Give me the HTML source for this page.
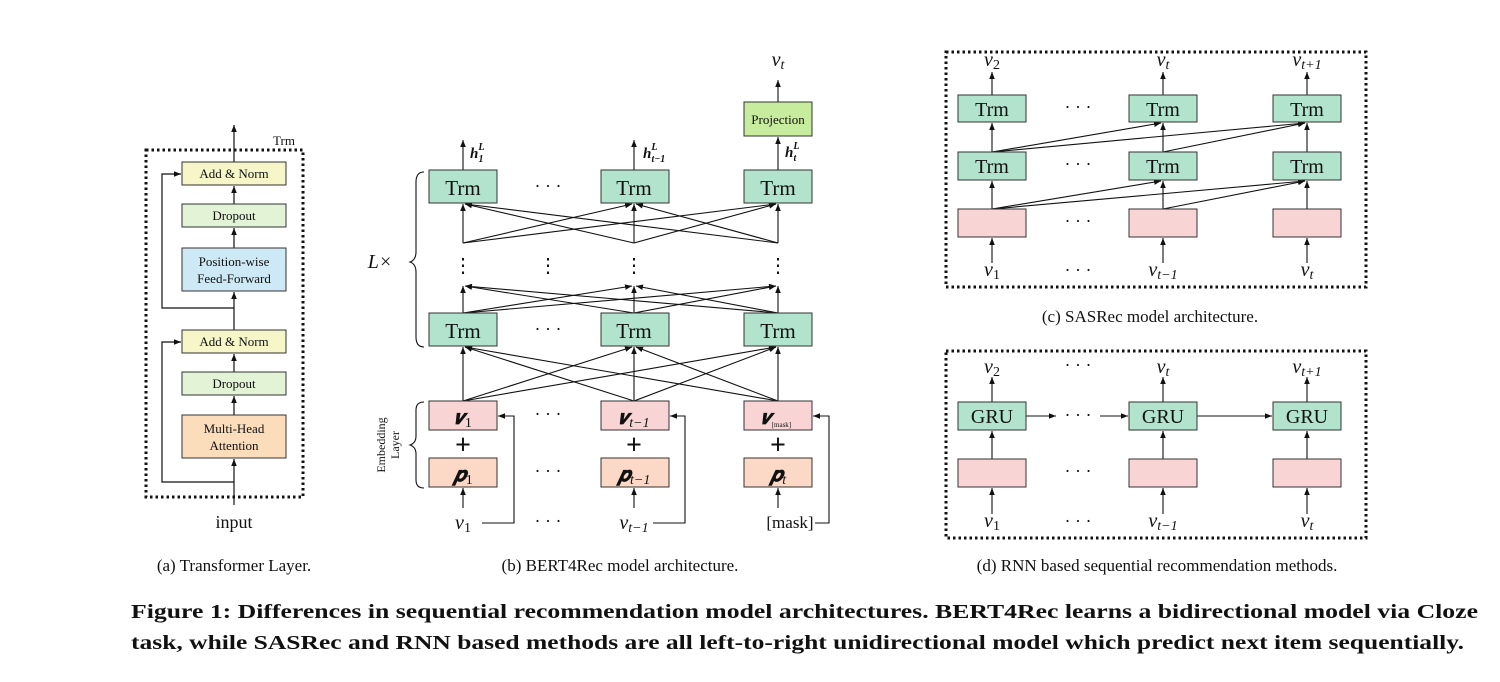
<!DOCTYPE html>
<html><head><meta charset="utf-8"><style>
html,body{margin:0;padding:0;background:#fff;}
svg{display:block;}
text{font-family:"Liberation Serif",serif;fill:#111;}
.it{font-style:italic;}
</style></head><body>
<svg width="1500" height="682" viewBox="0 0 1500 682" xmlns="http://www.w3.org/2000/svg">
<defs>
<marker id="a" markerWidth="8" markerHeight="8" refX="7" refY="4" orient="auto" markerUnits="userSpaceOnUse">
<path d="M0,1.2 L7,4 L0,6.8 Z" fill="#111"/></marker>
</defs>
<g stroke="#111" stroke-width="1.2" fill="none">
<!-- (a) -->
<rect x="146" y="150" width="157" height="347" stroke-dasharray="2.5,3" stroke-width="3"/>
<line x1="234" y1="162" x2="234" y2="125" marker-end="url(#a)"/>
<line x1="234" y1="204" x2="234" y2="186" marker-end="url(#a)"/>
<line x1="234" y1="248" x2="234" y2="228" marker-end="url(#a)"/>
<line x1="234" y1="330" x2="234" y2="292" marker-end="url(#a)"/>
<line x1="234" y1="372" x2="234" y2="354" marker-end="url(#a)"/>
<line x1="234" y1="415" x2="234" y2="396" marker-end="url(#a)"/>
<line x1="234" y1="505" x2="234" y2="459" marker-end="url(#a)"/>
<polyline points="234,308 162,308 162,174 181,174" marker-end="url(#a)"/>
<polyline points="234,482 162,482 162,342 181,342" marker-end="url(#a)"/>
</g>
<g stroke="#333" stroke-width="1">
<rect x="182" y="162" width="104" height="23" fill="#f6f6c9"/>
<rect x="182" y="204" width="104" height="23" fill="#e3f3d6"/>
<rect x="182" y="248" width="104" height="43" fill="#cde9f5"/>
<rect x="182" y="330" width="104" height="23" fill="#f6f6c9"/>
<rect x="182" y="372" width="104" height="23" fill="#e3f3d6"/>
<rect x="182" y="415" width="104" height="43" fill="#fbdcbb"/>
</g>
<g font-size="13" text-anchor="middle">
<text x="234" y="178">Add &amp; Norm</text>
<text x="234" y="220">Dropout</text>
<text x="234" y="266">Position-wise</text>
<text x="234" y="283">Feed-Forward</text>
<text x="234" y="346">Add &amp; Norm</text>
<text x="234" y="388">Dropout</text>
<text x="234" y="433">Multi-Head</text>
<text x="234" y="450">Attention</text>
<text x="284" y="145">Trm</text>
</g>
<text x="234" y="528" font-size="18" text-anchor="middle">input</text>

<!-- (b) -->
<g stroke="#111" stroke-width="1.1" fill="none">
<line x1="463" y1="170" x2="463" y2="140" marker-end="url(#a)"/>
<line x1="634" y1="170" x2="634" y2="140" marker-end="url(#a)"/>
<line x1="778" y1="170" x2="778" y2="137" marker-end="url(#a)"/>
<line x1="778" y1="102" x2="778" y2="80" marker-end="url(#a)"/>
<line x1="463" y1="243" x2="463" y2="204" marker-end="url(#a)"/>
<line x1="634" y1="243" x2="634" y2="204" marker-end="url(#a)"/>
<line x1="778" y1="243" x2="778" y2="204" marker-end="url(#a)"/>
<line x1="463" y1="243" x2="632" y2="204" marker-end="url(#a)"/>
<line x1="463" y1="243" x2="776" y2="204" marker-end="url(#a)"/>
<line x1="634" y1="243" x2="465" y2="204" marker-end="url(#a)"/>
<line x1="634" y1="243" x2="776" y2="204" marker-end="url(#a)"/>
<line x1="778" y1="243" x2="465" y2="204" marker-end="url(#a)"/>
<line x1="778" y1="243" x2="636" y2="204" marker-end="url(#a)"/>
<line x1="463" y1="313" x2="463" y2="286" marker-end="url(#a)"/>
<line x1="634" y1="313" x2="634" y2="286" marker-end="url(#a)"/>
<line x1="778" y1="313" x2="778" y2="286" marker-end="url(#a)"/>
<line x1="463" y1="313" x2="632" y2="286" marker-end="url(#a)"/>
<line x1="463" y1="313" x2="776" y2="286" marker-end="url(#a)"/>
<line x1="634" y1="313" x2="465" y2="286" marker-end="url(#a)"/>
<line x1="634" y1="313" x2="776" y2="286" marker-end="url(#a)"/>
<line x1="778" y1="313" x2="465" y2="286" marker-end="url(#a)"/>
<line x1="778" y1="313" x2="636" y2="286" marker-end="url(#a)"/>
<line x1="463" y1="401" x2="463" y2="347" marker-end="url(#a)"/>
<line x1="634" y1="401" x2="634" y2="347" marker-end="url(#a)"/>
<line x1="778" y1="401" x2="778" y2="347" marker-end="url(#a)"/>
<line x1="463" y1="401" x2="632" y2="347" marker-end="url(#a)"/>
<line x1="463" y1="401" x2="776" y2="347" marker-end="url(#a)"/>
<line x1="634" y1="401" x2="465" y2="347" marker-end="url(#a)"/>
<line x1="634" y1="401" x2="776" y2="347" marker-end="url(#a)"/>
<line x1="778" y1="401" x2="465" y2="347" marker-end="url(#a)"/>
<line x1="778" y1="401" x2="636" y2="347" marker-end="url(#a)"/>
<line x1="463" y1="508" x2="463" y2="488" marker-end="url(#a)"/>
<line x1="634" y1="508" x2="634" y2="488" marker-end="url(#a)"/>
<line x1="778" y1="508" x2="778" y2="488" marker-end="url(#a)"/>
<polyline points="482,523 514,523 514,416 498,416" marker-end="url(#a)"/>
<polyline points="653,523 685,523 685,416 670,416" marker-end="url(#a)"/>
<polyline points="815,523 829,523 829,416 813,416" marker-end="url(#a)"/>
<path d="M424,172 Q416,172 416,182 L416,252 Q416,260 410,262 Q416,264 416,272 L416,337 Q416,347 424,347"/>
<path d="M424,402 Q416,402 416,410 L416,436 Q416,443 410,445 Q416,447 416,454 L416,480 Q416,488 424,488"/>
</g>
<g stroke="#333" stroke-width="1">
<rect x="744" y="102" width="68" height="34" fill="#c8ec9e"/>
<rect x="429" y="170" width="68" height="33" fill="#b2e3cc"/>
<rect x="601" y="170" width="68" height="33" fill="#b2e3cc"/>
<rect x="744" y="170" width="68" height="33" fill="#b2e3cc"/>
<rect x="429" y="313" width="68" height="33" fill="#b2e3cc"/>
<rect x="601" y="313" width="68" height="33" fill="#b2e3cc"/>
<rect x="744" y="313" width="68" height="33" fill="#b2e3cc"/>
<rect x="429" y="401" width="68" height="29" fill="#f8d4d4"/>
<rect x="601" y="401" width="68" height="29" fill="#f8d4d4"/>
<rect x="744" y="401" width="68" height="29" fill="#f8d4d4"/>
<rect x="429" y="458" width="68" height="29" fill="#fcd9c6"/>
<rect x="601" y="458" width="68" height="29" fill="#fcd9c6"/>
<rect x="744" y="458" width="68" height="29" fill="#fcd9c6"/>
</g>
<g text-anchor="middle">
<text x="778" y="124" font-size="13">Projection</text>
<g font-size="21">
<text x="463" y="195">Trm</text><text x="634" y="195">Trm</text><text x="778" y="195">Trm</text>
<text x="463" y="338">Trm</text><text x="634" y="338">Trm</text><text x="778" y="338">Trm</text>
</g>
<g font-size="18">
<text x="548" y="192">· · ·</text><text x="548" y="335">· · ·</text>
<text x="548" y="420">· · ·</text><text x="548" y="477">· · ·</text><text x="548" y="527">· · ·</text>
</g>
<g font-size="28" font-weight="bold">
<text x="463" y="454">+</text><text x="634" y="454">+</text><text x="778" y="454">+</text>
</g>
<g font-size="20" class="it" font-weight="bold">
<text x="463" y="424">𝒗<tspan font-size="14" font-style="normal" font-weight="normal" dy="3">1</tspan></text>
<text x="634" y="424">𝒗<tspan font-size="14" font-weight="normal" dy="3">t−1</tspan></text>
<text x="776" y="424">𝒗<tspan font-size="7" font-style="normal" font-weight="normal" dy="3">[mask]</tspan></text>
<text x="463" y="481">𝒑<tspan font-size="14" font-style="normal" font-weight="normal" dy="3">1</tspan></text>
<text x="634" y="481">𝒑<tspan font-size="14" font-weight="normal" dy="3">t−1</tspan></text>
<text x="778" y="481">𝒑<tspan font-size="14" font-weight="normal" dy="3">t</tspan></text>
</g>
<g font-size="20" class="it">
<text x="463" y="529">v<tspan font-size="14" font-style="normal" dy="3">1</tspan></text>
<text x="634" y="529">v<tspan font-size="14" dy="3">t−1</tspan></text>
<text x="778" y="66">v<tspan font-size="14" dy="3">t</tspan></text>
</g>
<text x="790" y="528" font-size="17">[mask]</text>
<text x="380" y="268" font-size="20" class="it">L×</text>
<g font-size="20">
<text x="463" y="272">⋮</text><text x="548" y="272">⋮</text><text x="634" y="272">⋮</text><text x="778" y="272">⋮</text>
</g>
</g>
<g font-size="15" class="it" font-weight="bold">
<text x="470" y="158">h<tspan font-size="10" dy="-8">L</tspan><tspan font-size="10" dx="-6" dy="12">1</tspan></text>
<text x="643" y="158">h<tspan font-size="10" dy="-8">L</tspan><tspan font-size="10" dx="-6" dy="12">t−1</tspan></text>
<text x="785" y="157">h<tspan font-size="10" dy="-8">L</tspan><tspan font-size="10" dx="-6" dy="12">t</tspan></text>
</g>
<text transform="translate(385,445) rotate(-90)" font-size="12" text-anchor="middle">Embedding</text>
<text transform="translate(399,445) rotate(-90)" font-size="12" text-anchor="middle">Layer</text>

<!-- (c) -->
<g stroke="#111" stroke-width="1.1" fill="none">
<rect x="946" y="52" width="420" height="235" stroke-dasharray="2.5,3" stroke-width="3"/>
<line x1="992" y1="95" x2="992" y2="72" marker-end="url(#a)"/>
<line x1="1163" y1="95" x2="1163" y2="72" marker-end="url(#a)"/>
<line x1="1307" y1="95" x2="1307" y2="72" marker-end="url(#a)"/>
<line x1="992" y1="152" x2="992" y2="123" marker-end="url(#a)"/>
<line x1="1163" y1="152" x2="1163" y2="123" marker-end="url(#a)"/>
<line x1="1307" y1="152" x2="1307" y2="123" marker-end="url(#a)"/>
<line x1="992" y1="152" x2="1161" y2="123" marker-end="url(#a)"/>
<line x1="992" y1="152" x2="1305" y2="123" marker-end="url(#a)"/>
<line x1="1163" y1="152" x2="1305" y2="123" marker-end="url(#a)"/>
<line x1="992" y1="209" x2="992" y2="181" marker-end="url(#a)"/>
<line x1="1163" y1="209" x2="1163" y2="181" marker-end="url(#a)"/>
<line x1="1307" y1="209" x2="1307" y2="181" marker-end="url(#a)"/>
<line x1="992" y1="209" x2="1161" y2="181" marker-end="url(#a)"/>
<line x1="992" y1="209" x2="1305" y2="181" marker-end="url(#a)"/>
<line x1="1163" y1="209" x2="1305" y2="181" marker-end="url(#a)"/>
<line x1="992" y1="263" x2="992" y2="238" marker-end="url(#a)"/>
<line x1="1163" y1="263" x2="1163" y2="238" marker-end="url(#a)"/>
<line x1="1307" y1="263" x2="1307" y2="238" marker-end="url(#a)"/>
</g>
<g stroke="#333" stroke-width="1">
<rect x="958" y="95" width="68" height="27" fill="#b2e3cc"/>
<rect x="1129" y="95" width="68" height="27" fill="#b2e3cc"/>
<rect x="1273" y="95" width="68" height="27" fill="#b2e3cc"/>
<rect x="958" y="152" width="68" height="28" fill="#b2e3cc"/>
<rect x="1129" y="152" width="68" height="28" fill="#b2e3cc"/>
<rect x="1273" y="152" width="68" height="28" fill="#b2e3cc"/>
<rect x="958" y="209" width="68" height="28" fill="#f8d4d4"/>
<rect x="1129" y="209" width="68" height="28" fill="#f8d4d4"/>
<rect x="1273" y="209" width="68" height="28" fill="#f8d4d4"/>
</g>
<g text-anchor="middle">
<g font-size="20">
<text x="992" y="116">Trm</text><text x="1163" y="116">Trm</text><text x="1307" y="116">Trm</text>
<text x="992" y="173">Trm</text><text x="1163" y="173">Trm</text><text x="1307" y="173">Trm</text>
</g>
<g font-size="18"><text x="1078" y="113">· · ·</text><text x="1078" y="170">· · ·</text><text x="1078" y="227">· · ·</text><text x="1078" y="276">· · ·</text></g>
<g font-size="20" class="it">
<text x="992" y="66">v<tspan font-size="14" font-style="normal" dy="3">2</tspan></text>
<text x="1163" y="66">v<tspan font-size="14" dy="3">t</tspan></text>
<text x="1307" y="66">v<tspan font-size="14" dy="3">t+1</tspan></text>
<text x="992" y="276">v<tspan font-size="14" font-style="normal" dy="3">1</tspan></text>
<text x="1163" y="276">v<tspan font-size="14" dy="3">t−1</tspan></text>
<text x="1307" y="276">v<tspan font-size="14" dy="3">t</tspan></text>
</g>
</g>
<text x="1150" y="322" font-size="17" text-anchor="middle">(c) SASRec model architecture.</text>

<!-- (d) -->
<g stroke="#111" stroke-width="1.1" fill="none">
<rect x="946" y="351" width="420" height="187" stroke-dasharray="2.5,3" stroke-width="3"/>
<line x1="992" y1="402" x2="992" y2="377" marker-end="url(#a)"/>
<line x1="1163" y1="402" x2="1163" y2="377" marker-end="url(#a)"/>
<line x1="1307" y1="402" x2="1307" y2="377" marker-end="url(#a)"/>
<line x1="992" y1="459" x2="992" y2="431" marker-end="url(#a)"/>
<line x1="1163" y1="459" x2="1163" y2="431" marker-end="url(#a)"/>
<line x1="1307" y1="459" x2="1307" y2="431" marker-end="url(#a)"/>
<line x1="992" y1="514" x2="992" y2="488" marker-end="url(#a)"/>
<line x1="1163" y1="514" x2="1163" y2="488" marker-end="url(#a)"/>
<line x1="1307" y1="514" x2="1307" y2="488" marker-end="url(#a)"/>
<line x1="1026" y1="416" x2="1056" y2="416" marker-end="url(#a)"/>
<line x1="1100" y1="416" x2="1128" y2="416" marker-end="url(#a)"/>
<line x1="1197" y1="416" x2="1272" y2="416" marker-end="url(#a)"/>
</g>
<g stroke="#333" stroke-width="1">
<rect x="958" y="402" width="68" height="28" fill="#b2e3cc"/>
<rect x="1129" y="402" width="68" height="28" fill="#b2e3cc"/>
<rect x="1273" y="402" width="68" height="28" fill="#b2e3cc"/>
<rect x="958" y="459" width="68" height="28" fill="#f8d4d4"/>
<rect x="1129" y="459" width="68" height="28" fill="#f8d4d4"/>
<rect x="1273" y="459" width="68" height="28" fill="#f8d4d4"/>
</g>
<g text-anchor="middle">
<g font-size="20"><text x="992" y="423">GRU</text><text x="1163" y="423">GRU</text><text x="1307" y="423">GRU</text></g>
<g font-size="18"><text x="1078" y="371">· · ·</text><text x="1078" y="421">· · ·</text><text x="1078" y="477">· · ·</text><text x="1078" y="527">· · ·</text></g>
<g font-size="20" class="it">
<text x="992" y="373">v<tspan font-size="14" font-style="normal" dy="3">2</tspan></text>
<text x="1163" y="373">v<tspan font-size="14" dy="3">t</tspan></text>
<text x="1307" y="373">v<tspan font-size="14" dy="3">t+1</tspan></text>
<text x="992" y="527">v<tspan font-size="14" font-style="normal" dy="3">1</tspan></text>
<text x="1163" y="527">v<tspan font-size="14" dy="3">t−1</tspan></text>
<text x="1307" y="527">v<tspan font-size="14" dy="3">t</tspan></text>
</g>
</g>

<g font-size="17" text-anchor="middle">
<text x="234" y="571">(a) Transformer Layer.</text>
<text x="620" y="571">(b) BERT4Rec model architecture.</text>
<text x="1157" y="571">(d) RNN based sequential recommendation methods.</text>
</g>
<g font-size="20.5" font-weight="bold">
<text x="131" y="618" textLength="1347" lengthAdjust="spacingAndGlyphs">Figure 1: Differences in sequential recommendation model architectures. BERT4Rec learns a bidirectional model via Cloze</text>
<text x="131" y="649" textLength="1333" lengthAdjust="spacingAndGlyphs">task, while SASRec and RNN based methods are all left-to-right unidirectional model which predict next item sequentially.</text>
</g>
</svg>
</body></html>
